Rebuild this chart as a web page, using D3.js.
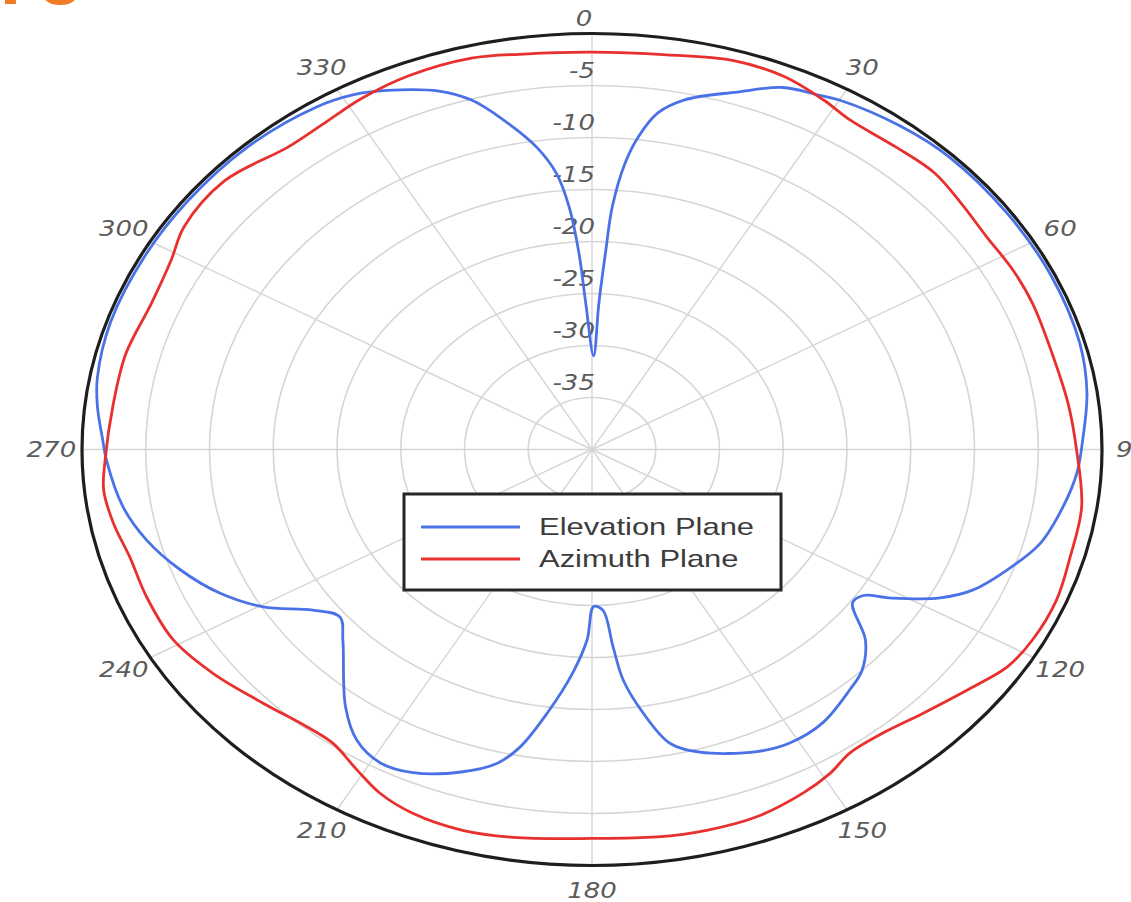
<!DOCTYPE html>
<html>
<head>
<meta charset="utf-8">
<script src="https://cdn.jsdelivr.net/npm/d3@7"></script>
<style>
  html, body { margin: 0; padding: 0; background: #ffffff; }
  svg { display: block; }
</style>
</head>
<body>
<svg id="chart" width="1131" height="902"></svg>
<script>
// Radiation pattern, gain in dB versus angle (degrees, clockwise from top)
const elevAngle = [0.8, 2.2, 3.2, 3.9, 5.4, 6.9, 9.1, 12.2, 18.3, 23.3, 27.3, 30, 38, 45, 55, 65, 75, 82,
  88.6, 93.4, 98.5, 104.4, 109.6, 114.3, 117.6, 121.4, 123.4, 125.8, 130.5, 135.1, 138.8, 145.4, 151.2, 156,
  163.8, 167.8, 171, 173.7, 175, 176.8, 179.5, 181.2, 184, 187.9, 191.2, 193.9, 198.1, 204.3, 208.9, 213.4,
  218, 226.8, 230.8, 234.8, 239.6, 244.7, 250.3, 256, 261.5, 268.5, 271.5, 276, 280, 288, 298, 307, 317,
  326.6, 331.3, 335, 340.8, 344.3, 347.7, 351.5, 354, 355.6, 356.9, 358];
const elevGain = [-31, -25.9, -21.1, -16.6, -12.3, -9.7, -7.2, -5.6, -3.8, -2.1, -1.6, -1.2, -0.6, -0.3, -0.3, -0.3, -0.4, -0.8,
  -1.5, -1.9, -2.65, -3.7, -5.45, -7.2, -9.2, -12.6, -14.5, -14.8, -11.8, -10.0, -9.3, -8.1, -7.8, -8.2,
  -9.7, -11.1, -14.35, -17.7, -20.9, -24.5, -24.9, -21.7, -18.5, -14.4, -10.8, -8.9, -7.4, -5.9, -5.6, -6.5,
  -8.6, -13.2, -14.5, -13.2, -10.1, -7.7, -5.7, -4.0, -2.8, -1.9, -1.6, -1.0, -0.6, -0.3, -0.3, -0.3, -0.3,
  -0.6, -1.1, -1.9, -3.5, -5.1, -7.6, -10.6, -13.3, -16.6, -21.1, -25.9];

const azimAngle = [0, 8.8, 16.4, 22.8, 28.4, 32.5, 39.3, 45.3, 50.7, 56.5, 62.4, 67.9, 75.6, 83.2, 90,
  98.2, 105.4, 111.6, 117.9, 122.7, 127.4, 134.3, 140, 145.3, 149, 153.4, 159.9, 166.2, 172.2, 180,
  189.4, 195.5, 201.9, 206.7, 210.9, 215.7, 220, 226.6, 234.1, 240.9, 247.9, 254.1, 259.3, 264.2, 268.5,
  276.7, 284.2, 292.2, 298.9, 303.8, 311.9, 320.7, 326.8, 332, 338.2, 345.9, 352];
const azimGain = [-1.8, -1.6, -1.0, -1.1, -1.8, -2.4, -2.4, -2.2, -2.6, -2.9, -2.75, -2.7, -2.75, -2.4, -2.0,
  -1.2, -1.1, -0.8, -0.9, -1.3, -2.4, -3.7, -4.45, -4.5, -3.7, -3.05, -2.4, -2.3, -2.4, -2.6,
  -2.2, -2.0, -2.3, -3.0, -4.1, -5.2, -5.2, -4.5, -3.3, -2.4, -2.3, -2.3, -1.8, -1.5, -1.8,
  -2.2, -2.3, -2.7, -2.3, -1.5, -1.3, -2.4, -2.2, -1.7, -1.3, -1.2, -1.6];

const ringTicks = [-35, -30, -25, -20, -15, -10, -5];
const ringLabels = ["-35", "-30", "-25", "-20", "-15", "-10", "-5", "0"];
const ringLabelValues = [-35, -30, -25, -20, -15, -10, -5, 0];
const spokeAngles = [0, 30, 60, 90, 120, 150, 180, 210, 240, 270, 300, 330];
const spokeLabels = ["0", "30", "60", "90", "120", "150", "180", "210", "240", "270", "300", "330"];
const seriesNames = ["Elevation Plane", "Azimuth Plane"];
const seriesColors = ["#4a72e6", "#e8312e"];

const svg = d3.select("#chart");
const cx = 592, cy = 449.5, RX = 510, RY = 416;
const textStretch = 1.24;

// normalised radius: -40 dB at centre, 0 dB on the rim
const r = d3.scaleLinear().domain([-40, 0]).range([0, 1]);
const rad = d => d * Math.PI / 180;
const pt = (angle, gain) => {
  const f = r(gain), a = rad(angle);
  return [cx + RX * f * Math.sin(a), cy - RY * f * Math.cos(a)];
};

// heading fragment in the corner
svg.append("text")
  .attr("x", -28).attr("y", 4)
  .attr("font-family", "Liberation Sans, Arial, sans-serif")
  .attr("font-weight", "bold")
  .attr("font-size", 80)
  .attr("letter-spacing", 15)
  .attr("fill", "#f07a26")
  .text("no");

const grid = svg.append("g");

// concentric rings
grid.selectAll("ellipse.ring").data(ringTicks).join("ellipse")
  .attr("class", "ring")
  .attr("cx", cx).attr("cy", cy)
  .attr("rx", d => RX * r(d)).attr("ry", d => RY * r(d))
  .attr("fill", "none").attr("stroke", "#d6d6d6").attr("stroke-width", 1.6);

// spokes
grid.selectAll("line.spoke").data(spokeAngles).join("line")
  .attr("class", "spoke")
  .attr("x1", cx).attr("y1", cy)
  .attr("x2", d => pt(d, 0)[0]).attr("y2", d => pt(d, 0)[1])
  .attr("stroke", "#d6d6d6").attr("stroke-width", 1.4);

// ring value labels along the 0° spoke
grid.selectAll("text.rlab").data(ringLabelValues).join("text")
  .attr("class", "rlab")
  .attr("transform", (d, i) => {
    const y = d === 0 ? cy - RY * 1.035 : cy - RY * r(d) - 15;
    const x = d === 0 ? cx - 8 : cx + 3;
    return `translate(${x},${y}) scale(${textStretch},1)`;
  })
  .attr("text-anchor", d => d === 0 ? "middle" : "end")
  .attr("dominant-baseline", "central")
  .attr("font-family", "DejaVu Sans, sans-serif")
  .attr("font-style", "italic")
  .attr("font-size", 21)
  .attr("fill", "#5c5c5c")
  .text((d, i) => ringLabels[i]);

// angle labels outside the rim
grid.selectAll("text.alab").data(spokeAngles.filter(a => a !== 0)).join("text")
  .attr("class", "alab")
  .attr("transform", d => {
    const a = rad(d);
    const x = cx + RX * 1.06 * Math.sin(a);
    const y = cy - RY * 1.06 * Math.cos(a);
    return `translate(${x},${y}) scale(${textStretch},1)`;
  })
  .attr("text-anchor", "middle")
  .attr("dominant-baseline", "central")
  .attr("font-family", "DejaVu Sans, sans-serif")
  .attr("font-style", "italic")
  .attr("font-size", 21)
  .attr("fill", "#5c5c5c")
  .text(d => spokeLabels[spokeAngles.indexOf(d)]);

// pattern traces
const line = d3.line().curve(d3.curveCatmullRomClosed.alpha(0.5));
const series = [
  { angle: elevAngle, gain: elevGain, color: seriesColors[0] },
  { angle: azimAngle, gain: azimGain, color: seriesColors[1] }
];
svg.append("g").selectAll("path.trace").data(series).join("path")
  .attr("class", "trace")
  .attr("d", s => line(s.angle.map((a, i) => pt(a, s.gain[i]))))
  .attr("fill", "none")
  .attr("stroke", s => s.color)
  .attr("stroke-width", 2.8)
  .attr("stroke-linejoin", "round");

// outer 0 dB rim
svg.append("ellipse")
  .attr("cx", cx).attr("cy", cy)
  .attr("rx", RX * r(0)).attr("ry", RY * r(0))
  .attr("fill", "none").attr("stroke", "#1e1e1e").attr("stroke-width", 3.2);

// legend
const lg = svg.append("g").attr("transform", "translate(404,494)");
lg.append("rect")
  .attr("width", 377).attr("height", 96)
  .attr("fill", "#ffffff").attr("stroke", "#262626").attr("stroke-width", 3);
seriesNames.forEach((name, i) => {
  const y = 33 + i * 32;
  lg.append("line")
    .attr("x1", 17).attr("x2", 116).attr("y1", y).attr("y2", y)
    .attr("stroke", seriesColors[i]).attr("stroke-width", 3);
  lg.append("text")
    .attr("transform", `translate(135,${y}) scale(1.29,1)`)
    .attr("dominant-baseline", "central")
    .attr("font-family", "Liberation Sans, Arial, sans-serif")
    .attr("font-size", 24)
    .attr("fill", "#3c3c3c")
    .text(name);
});
</script>
</body>
</html>
